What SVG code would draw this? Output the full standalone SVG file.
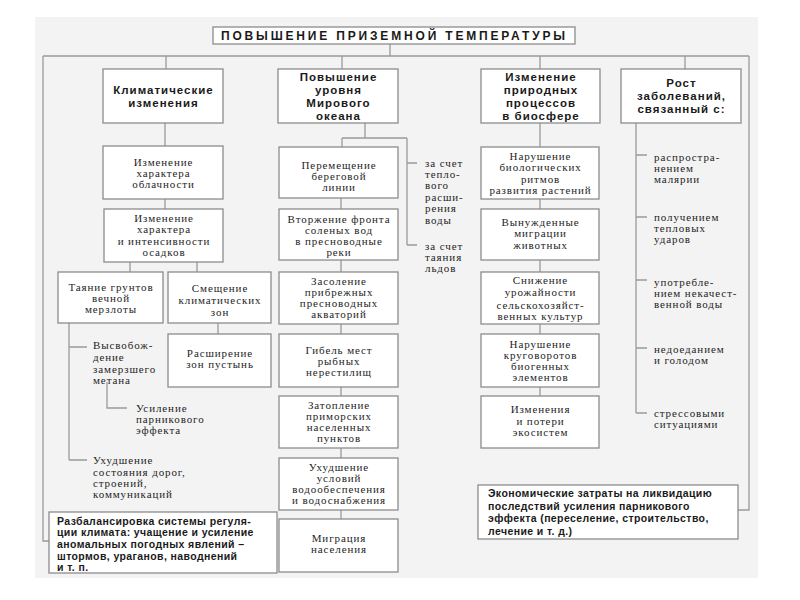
<svg xmlns="http://www.w3.org/2000/svg" width="800" height="600" viewBox="0 0 800 600">
<style>
.bx{fill:#fff;stroke:#8c8c8c;stroke-width:1.3}
.ln{stroke:#9a9a9a;stroke-width:1.3;fill:none}
.t{font-family:"Liberation Serif","DejaVu Serif",serif;font-size:11px;fill:#1e1e1e;letter-spacing:0.9px}
.c{text-anchor:middle}
.h{font-family:"Liberation Sans","DejaVu Sans",sans-serif;font-weight:bold;font-size:11.5px;fill:#1a1a1a;text-anchor:middle;letter-spacing:1px}
.n{font-family:"Liberation Sans","DejaVu Sans",sans-serif;font-weight:bold;font-size:10.5px;fill:#1a1a1a;letter-spacing:0.4px}
</style>
<rect x="0" y="0" width="800" height="600" fill="#fff"/>
<rect x="35" y="17" width="723" height="561" fill="#f3f3f3"/>

<g id="connectors">
<path class="ln" d="M390,44V56M43,56H749M43,56V541H49M749,56V510H738"/>
<path class="ln" d="M166,56V69M342,56V69M540,56V69M685,56V69"/>
<path class="ln" d="M165,123V146M165,199V209M130,262V272M197,262V272M218,323V334"/>
<path class="ln" d="M69,323V460M69,347H87M69,460H87M107,382V408H127"/>
<path class="ln" d="M365,123V138M342,138H407M342,138V147M407,138V245M407,163H417M407,245H417"/>
<path class="ln" d="M341,198V209M341,260V272M341,324V334M341,387V396M341,448V458M341,510V519"/>
<path class="ln" d="M540,123V147M540,199V209M540,260V272M540,324V334M540,387V396"/>
<path class="ln" d="M636,123V413M636,155H647M636,217H647M636,280H647M636,348H647M636,413H647"/>
</g>

<g id="title">
<rect class="bx" x="213" y="27" width="362" height="17"/>
<text x="221" y="40" font-family="Liberation Sans, sans-serif" font-weight="bold" font-size="12" fill="#1a1a1a" textLength="344" lengthAdjust="spacing">ПОВЫШЕНИЕ  ПРИЗЕМНОЙ  ТЕМПЕРАТУРЫ</text>
</g>

<g id="h1">
<rect class="bx" x="103" y="69" width="120" height="54"/>
<text class="h" x="163.5" y="94">Климатические</text>
<text class="h" x="163.5" y="107">изменения</text>
</g>
<g id="h2">
<rect class="bx" x="278" y="69" width="120" height="54"/>
<text class="h" x="338.5" y="81">Повышение</text>
<text class="h" x="338.5" y="94">уровня</text>
<text class="h" x="338.5" y="107">Мирового</text>
<text class="h" x="338.5" y="120">океана</text>
</g>
<g id="h3">
<rect class="bx" x="481" y="69" width="119" height="54"/>
<text class="h" x="541" y="81">Изменение</text>
<text class="h" x="541" y="94">природных</text>
<text class="h" x="541" y="107">процессов</text>
<text class="h" x="541" y="120">в биосфере</text>
</g>
<g id="h4">
<rect class="bx" x="621" y="69" width="120" height="54"/>
<text class="h" x="681.5" y="87">Рост</text>
<text class="h" x="681.5" y="100">заболеваний,</text>
<text class="h" x="681.5" y="113">связанный с:</text>
</g>

<g id="c1a">
<rect class="bx" x="103" y="146" width="120" height="53"/>
<text class="t c" x="163.5" y="166">Изменение</text>
<text class="t c" x="163.5" y="177">характера</text>
<text class="t c" x="163.5" y="188">облачности</text>
</g>
<g id="c1b">
<rect class="bx" x="104" y="209" width="119" height="53"/>
<text class="t c" x="164" y="222">Изменение</text>
<text class="t c" x="164" y="233.3">характера</text>
<text class="t c" x="164" y="244.6">и интенсивности</text>
<text class="t c" x="164" y="256">осадков</text>
</g>
<g id="c1c">
<rect class="bx" x="58" y="272" width="105" height="51"/>
<text class="t c" x="111" y="291">Таяние грунтов</text>
<text class="t c" x="111" y="302">вечной</text>
<text class="t c" x="111" y="313">мерзлоты</text>
</g>
<g id="c1d">
<rect class="bx" x="168" y="272" width="103" height="51"/>
<text class="t c" x="220" y="292">Смещение</text>
<text class="t c" x="220" y="304">климатических</text>
<text class="t c" x="220" y="316">зон</text>
</g>
<g id="c1e">
<rect class="bx" x="168" y="334" width="103" height="53"/>
<text class="t c" x="220" y="357">Расширение</text>
<text class="t c" x="220" y="368">зон пустынь</text>
</g>
<g id="c1f">
<text class="t" x="93" y="349">Высвобож-</text>
<text class="t" x="93" y="361">дение</text>
<text class="t" x="93" y="373">замерзшего</text>
<text class="t" x="93" y="384">метана</text>
</g>
<g id="c1g">
<text class="t" x="136" y="412">Усиление</text>
<text class="t" x="136" y="423">парникового</text>
<text class="t" x="136" y="434">эффекта</text>
</g>
<g id="c1h">
<text class="t" x="93" y="464">Ухудшение</text>
<text class="t" x="93" y="476">состояния дорог,</text>
<text class="t" x="93" y="487">строений,</text>
<text class="t" x="93" y="498">коммуникаций</text>
</g>

<g id="c2a">
<rect class="bx" x="279" y="147" width="119" height="51"/>
<text class="t c" x="339" y="169">Перемещение</text>
<text class="t c" x="339" y="180">береговой</text>
<text class="t c" x="339" y="191">линии</text>
</g>
<g id="c2b">
<rect class="bx" x="279" y="209" width="119" height="51"/>
<text class="t c" x="339" y="222.5">Вторжение фронта</text>
<text class="t c" x="339" y="233.5">соленых вод</text>
<text class="t c" x="339" y="244.5">в пресноводные</text>
<text class="t c" x="339" y="255.5">реки</text>
</g>
<g id="c2c">
<rect class="bx" x="279" y="272" width="119" height="52"/>
<text class="t c" x="339" y="285">Засоление</text>
<text class="t c" x="339" y="296">прибрежных</text>
<text class="t c" x="339" y="307">пресноводных</text>
<text class="t c" x="339" y="318">акваторий</text>
</g>
<g id="c2d">
<rect class="bx" x="279" y="334" width="119" height="53"/>
<text class="t c" x="339" y="354">Гибель мест</text>
<text class="t c" x="339" y="365">рыбных</text>
<text class="t c" x="339" y="376">нерестилищ</text>
</g>
<g id="c2e">
<rect class="bx" x="279" y="396" width="119" height="52"/>
<text class="t c" x="339" y="409">Затопление</text>
<text class="t c" x="339" y="420">приморских</text>
<text class="t c" x="339" y="431">населенных</text>
<text class="t c" x="339" y="442">пунктов</text>
</g>
<g id="c2f">
<rect class="bx" x="279" y="458" width="119" height="52"/>
<text class="t c" x="339" y="471">Ухудшение</text>
<text class="t c" x="339" y="482">условий</text>
<text class="t c" x="339" y="493">водообеспечения</text>
<text class="t c" x="339" y="504">и водоснабжения</text>
</g>
<g id="c2g">
<rect class="bx" x="279" y="519" width="119" height="53"/>
<text class="t c" x="339" y="542">Миграция</text>
<text class="t c" x="339" y="553">населения</text>
</g>
<g id="c2h">
<text class="t" x="425" y="167">за счет</text>
<text class="t" x="425" y="178">тепло-</text>
<text class="t" x="425" y="189">вого</text>
<text class="t" x="425" y="201">расши-</text>
<text class="t" x="425" y="212">рения</text>
<text class="t" x="425" y="224">воды</text>
</g>
<g id="c2i">
<text class="t" x="425" y="250">за счет</text>
<text class="t" x="425" y="261">таяния</text>
<text class="t" x="425" y="272">льдов</text>
</g>

<g id="c3a">
<rect class="bx" x="481" y="147" width="118" height="52"/>
<text class="t c" x="540.5" y="160">Нарушение</text>
<text class="t c" x="540.5" y="171">биологических</text>
<text class="t c" x="540.5" y="183">ритмов</text>
<text class="t c" x="540.5" y="194">развития растений</text>
</g>
<g id="c3b">
<rect class="bx" x="481" y="209" width="118" height="51"/>
<text class="t c" x="540.5" y="226">Вынужденные</text>
<text class="t c" x="540.5" y="237">миграции</text>
<text class="t c" x="540.5" y="249">животных</text>
</g>
<g id="c3c">
<rect class="bx" x="481" y="272" width="118" height="52"/>
<text class="t c" x="540.5" y="284">Снижение</text>
<text class="t c" x="540.5" y="296">урожайности</text>
<text class="t c" x="540.5" y="309">сельскохозяйст-</text>
<text class="t c" x="540.5" y="320">венных культур</text>
</g>
<g id="c3d">
<rect class="bx" x="481" y="334" width="118" height="53"/>
<text class="t c" x="540.5" y="348">Нарушение</text>
<text class="t c" x="540.5" y="359">круговоротов</text>
<text class="t c" x="540.5" y="370">биогенных</text>
<text class="t c" x="540.5" y="381">элементов</text>
</g>
<g id="c3e">
<rect class="bx" x="481" y="396" width="118" height="52"/>
<text class="t c" x="540.5" y="413">Изменения</text>
<text class="t c" x="540.5" y="425">и потери</text>
<text class="t c" x="540.5" y="436">экосистем</text>
</g>

<g id="c4a">
<text class="t" x="654" y="161">распростра-</text>
<text class="t" x="654" y="172">нением</text>
<text class="t" x="654" y="183">малярии</text>
</g>
<g id="c4b">
<text class="t" x="654" y="221">получением</text>
<text class="t" x="654" y="232">тепловых</text>
<text class="t" x="654" y="243">ударов</text>
</g>
<g id="c4c">
<text class="t" x="654" y="286">употребле-</text>
<text class="t" x="654" y="297">нием некачест-</text>
<text class="t" x="654" y="308">венной воды</text>
</g>
<g id="c4d">
<text class="t" x="654" y="353">недоеданием</text>
<text class="t" x="654" y="364">и голодом</text>
</g>
<g id="c4e">
<text class="t" x="654" y="417">стрессовыми</text>
<text class="t" x="654" y="428">ситуациями</text>
</g>

<g id="b1">
<rect class="bx" x="49" y="512" width="228" height="61"/>
<text class="n" x="57" y="525">Разбалансировка системы регуля-</text>
<text class="n" x="57" y="536">ции климата: учащение и усиление</text>
<text class="n" x="57" y="548">аномальных погодных явлений –</text>
<text class="n" x="57" y="560">штормов, ураганов, наводнений</text>
<text class="n" x="57" y="571">и т. п.</text>
</g>
<g id="b2">
<rect class="bx" x="478" y="485" width="260" height="54"/>
<text class="n" x="488" y="497">Экономические затраты на ликвидацию</text>
<text class="n" x="488" y="509.5">последствий усиления парникового</text>
<text class="n" x="488" y="522">эффекта (переселение, строительство,</text>
<text class="n" x="488" y="534.5">лечение и т. д.)</text>
</g>
</svg>
